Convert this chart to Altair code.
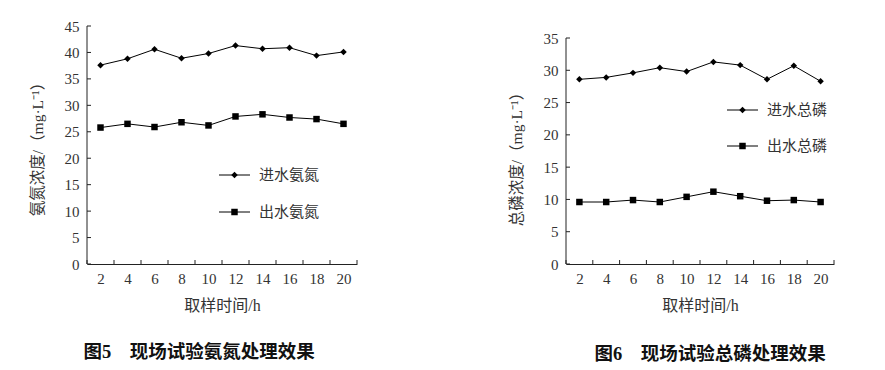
import altair as alt
import pandas as pd

# ---------------- data ----------------
times = [2, 4, 6, 8, 10, 12, 14, 16, 18, 20]
nh_in = [37.6, 38.8, 40.6, 38.9, 39.8, 41.3, 40.7, 40.9, 39.4, 40.1]
nh_out = [25.8, 26.5, 25.9, 26.8, 26.2, 27.9, 28.3, 27.7, 27.4, 26.5]
tp_in = [28.6, 28.9, 29.6, 30.4, 29.8, 31.3, 30.8, 28.6, 30.7, 28.3]
tp_out = [9.6, 9.6, 9.9, 9.6, 10.4, 11.2, 10.5, 9.8, 9.9, 9.6]
nh_series = ["进水氨氮", "出水氨氮"]
tp_series = ["进水总磷", "出水总磷"]
nh_yticks = [0, 5, 10, 15, 20, 25, 30, 35, 40, 45]
tp_yticks = [0, 5, 10, 15, 20, 25, 30, 35]
x_bounds = [1, 3, 5, 7, 9, 11, 13, 15, 17, 19, 21]
x_title = "取样时间/h"
nh_ytitle = "氨氮浓度/（mg·L⁻¹）"
tp_ytitle = "总磷浓度/（mg·L⁻¹）"
nh_caption = "图5\u2003现场试验氨氮处理效果"
tp_caption = "图6\u2003现场试验总磷处理效果"

NUM_FONT = "Liberation Serif, Noto Sans CJK SC"
CJK_FONT = "Liberation Serif, Noto Sans CJK SC"
TXT = "#333333"
H = 238


def panel(names, vin, vout, yticks, ydom, ytitle, caption, width,
          title_y, leg_x, leg_y1, leg_y2, cap_x, cap_y):
    df = pd.DataFrame({
        "t": times * 2,
        "v": vin + vout,
        "s": [names[0]] * len(times) + [names[1]] * len(times),
    })
    xs = alt.Scale(domain=[1, 21], nice=False, zero=False)
    ys = alt.Scale(domain=[0, ydom], nice=False, zero=True)
    xaxis = alt.Axis(values=times, format="d", ticks=False, grid=False,
                     domain=True, domainColor="#222", domainWidth=1,
                     labelFont=NUM_FONT, labelFontSize=15, labelColor=TXT,
                     labelPadding=7, labelFlush=False,
                     title=x_title, titleFont=CJK_FONT, titleFontSize=16,
                     titleFontWeight="normal", titleColor=TXT,
                     titleY=41, titleBaseline="middle")
    yaxis = alt.Axis(values=yticks, format="d", ticks=False, grid=False,
                     domain=False,
                     labelFont=NUM_FONT, labelFontSize=15, labelColor=TXT,
                     labelPadding=8,
                     title=ytitle, titleFont=CJK_FONT, titleFontSize=15.5,
                     titleFontWeight="normal", titleColor=TXT,
                     titleAngle=270, titleX=-50, titleY=title_y,
                     titleAlign="center", titleBaseline="middle")

    lines = alt.Chart(df).mark_line(color="black", strokeWidth=1).encode(
        x=alt.X("t:Q", scale=xs, axis=xaxis),
        y=alt.Y("v:Q", scale=ys, axis=yaxis),
        detail="s:N",
    )
    pts = alt.Chart(df).mark_point(filled=True, color="black", opacity=1, size=42).encode(
        x=alt.X("t:Q", scale=xs, axis=xaxis),
        y=alt.Y("v:Q", scale=ys, axis=yaxis),
        shape=alt.Shape("s:N", scale=alt.Scale(domain=names, range=["diamond", "square"]),
                        legend=None),
    )
    ydom_df = pd.DataFrame({"a": [0], "b": [yticks[-1]]})
    ydomain = alt.Chart(ydom_df).mark_rule(color="#222", strokeWidth=1).encode(
        y=alt.Y("a:Q", scale=ys, axis=yaxis), y2="b:Q", x=alt.value(0))
    yt = alt.Chart(pd.DataFrame({"v": yticks})).mark_rule(color="#222", strokeWidth=1).encode(
        y=alt.Y("v:Q", scale=ys, axis=yaxis), x=alt.value(0), x2=alt.value(4))
    xt = alt.Chart(pd.DataFrame({"t": x_bounds})).mark_rule(color="#222", strokeWidth=1).encode(
        x=alt.X("t:Q", scale=xs, axis=xaxis), y=alt.value(H), y2=alt.value(H - 4))

    one = pd.DataFrame({"k": [0]})
    leg = []
    for nm, ly, shp in [(names[0], leg_y1, "diamond"), (names[1], leg_y2, "square")]:
        leg.append(alt.Chart(one).mark_rule(color="black", strokeWidth=1).encode(
            x=alt.value(leg_x), x2=alt.value(leg_x + 31), y=alt.value(ly)))
        leg.append(alt.Chart(one).mark_point(shape=shp, filled=True, color="black",
                                             opacity=1, size=42).encode(
            x=alt.value(leg_x + 15.5), y=alt.value(ly)))
        leg.append(alt.Chart(one).mark_text(text=nm, align="left", baseline="middle",
                                            font=CJK_FONT, fontSize=15, color=TXT).encode(
            x=alt.value(leg_x + 40), y=alt.value(ly)))
    cap = alt.Chart(one).mark_text(text=caption, align="center", baseline="middle",
                                   font="Liberation Serif, Noto Sans CJK SC", fontSize=18.5,
                                   fontWeight="bold", color="#111").encode(
        x=alt.value(cap_x), y=alt.value(cap_y))

    return alt.layer(lines, pts, ydomain, yt, xt, *leg, cap).properties(width=width, height=H)


left = panel(nh_series, nh_in, nh_out, nh_yticks, 45, nh_ytitle, nh_caption, 270,
             119, 132, 149, 186, 112, 326)
right = panel(tp_series, tp_in, tp_out, tp_yticks, 35 * H / 226, tp_ytitle, tp_caption, 268,
              129, 161, 84, 120, 144, 328)

chart = alt.hconcat(left, right, spacing=151).properties(
    padding={"left": 22, "top": 11, "right": 5, "bottom": 0}
).configure_view(stroke=None)

chart.save("out.html", embed_options={"renderer": "svg", "actions": False})
